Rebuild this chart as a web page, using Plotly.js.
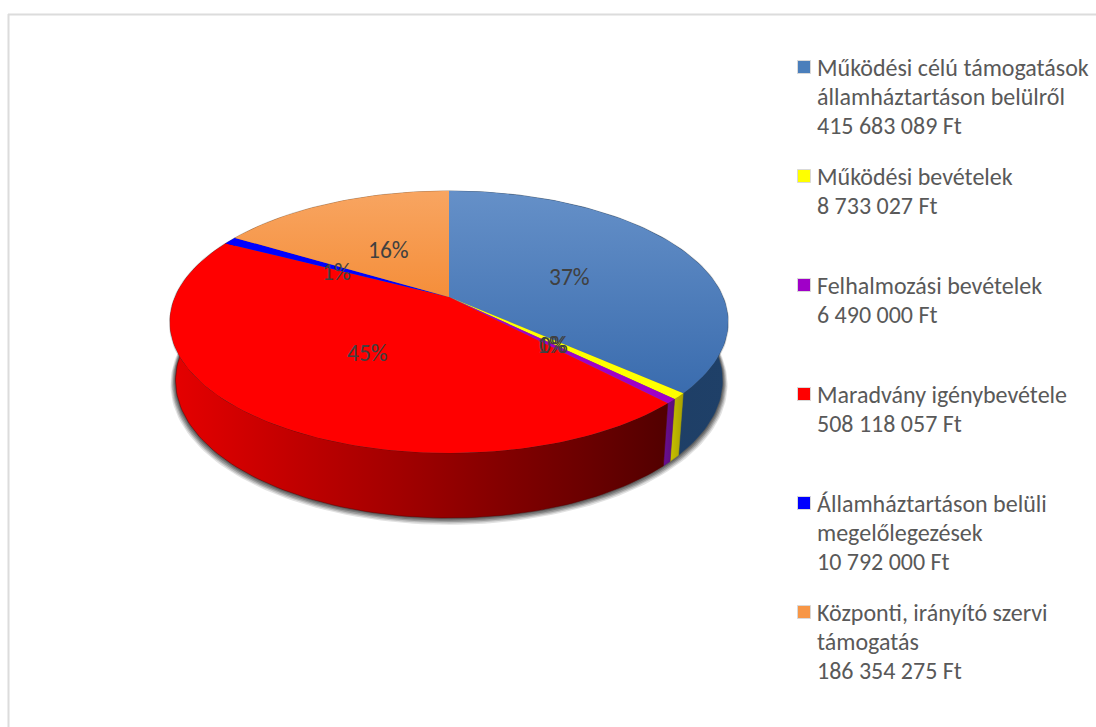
<!DOCTYPE html>
<html>
<head>
<meta charset="utf-8">
<script src="https://cdn.plot.ly/plotly-3.0.1.min.js"></script>
<style>html,body{margin:0;padding:0;background:#fff}#chart{width:1096px;height:727px}</style>
</head>
<body>
<div id="chart"></div>
<script>
// ---- data ----
const categories = ["Működési célú támogatások államháztartáson belülről","Működési bevételek","Felhalmozási bevételek","Maradvány igénybevétele","Államháztartáson belüli megelőlegezések","Központi, irányító szervi támogatás"];
const values = [415683089, 8733027, 6490000, 508118057, 10792000, 186354275];
const percentLabels = ["37%","1%","0%","45%","1%","16%"];
const legendLines = [
  ["Működési célú támogatások","államháztartáson belülről","415 683 089 Ft"],
  ["Működési bevételek","8 733 027 Ft"],
  ["Felhalmozási bevételek","6 490 000 Ft"],
  ["Maradvány igénybevétele","508 118 057 Ft"],
  ["Államháztartáson belüli","megelőlegezések","10 792 000 Ft"],
  ["Központi, irányító szervi","támogatás","186 354 275 Ft"]
];
// ---- styles ----
const faceColors = [["#6590c8","#3a6cae"],["#ffff00","#ffff00"],["#a000c8","#a000c8"],["#ff0000","#ff0000"],["#0000ff","#0000ff"],["#f8a561","#f58e3a"]];
const wallColors = [["#1b3a60","#1f4068"],["#c8c000","#a8a200"],["#6a0f90","#5a0c7c"],["#e60000","#520000"],["#000099","#000099"],["#a05a20","#a05a20"]];
const swatchColors = ["#4a7ebb","#ffff00","#a000c8","#ff0000","#0000ff","#f79646"];
const labelX = [569,551,553,367,336,388];
const labelY = [277,345,345,353,272,250];
const fontFamily = "Carlito, Lato, 'Open Sans', sans-serif";

// perspective disc geometry, in pixels of the page
const cx = 449, cy = 297, A = 273.9, B = 126.2, K = 0.1908;
function rim(deg, r){
  const t = deg*Math.PI/180, u = Math.sin(t)*(r||1), v = -Math.cos(t)*(r||1), d = 1 - K*v;
  return [cx + A*u/d, cy + B*v/d];
}
function low(p){ return [cx + (p[0]-cx)*0.98, p[1] + 58.5 + (p[1]-322)*0.05]; }
function arc(a,b){ const n = Math.max(2,Math.ceil((b-a)/1.5)), out=[]; for(let i=0;i<=n;i++) out.push(rim(a+(b-a)*i/n)); return out; }

const total = values.reduce((s,x)=>s+x,0);
let acc = 0;
const sectors = values.map(x=>{ const a = acc/total*360; acc += x; return [a, acc/total*360]; });
const traces = [];
const poly = (pts, extra)=>Object.assign({type:"scatter",mode:"lines",x:pts.map(p=>p[0]),y:pts.map(p=>p[1]),fill:"toself",line:{width:0},hoverinfo:"skip",showlegend:false},extra);

// soft drop shadow below the disc
const whole = arc(0,360);
[[5,0.15],[4,0.2],[3,0.28],[2,0.35],[1,0.4]].forEach(s=>{
  const pts = whole.map(p=>{ const q = low(p); return [cx+(q[0]-cx)*(1+s[0]/270), q[1]+s[0]*0.6+ (q[1]-322)*s[0]/260]; });
  traces.push(poly(pts,{fillcolor:"rgba(60,60,60,"+s[1]+")"}));
});
// thin rim edge behind the top face
traces.push(poly(whole.map(p=>[cx+(p[0]-cx)*1.003,p[1]-0.6+(p[1]>322?2:0)]),{fillcolor:"rgba(130,130,130,0.35)"}));

// walls
sectors.forEach((s,i)=>{
  const top = arc(s[0],s[1]), bot = top.map(low).reverse();
  const pts = top.concat(bot); pts.push(pts[0]);
  const xs = pts.map(p=>p[0]);
  traces.push(poly(pts,{fillcolor:wallColors[i][0],line:{width:0.5,color:wallColors[i][1]},
    fillgradient:{type:"horizontal",start:Math.min(...xs),stop:Math.max(...xs),colorscale:[[0,wallColors[i][0]],[1,wallColors[i][1]]]}}));
});
// top faces
sectors.forEach((s,i)=>{
  const pts = [[cx,cy]].concat(arc(s[0],s[1])); pts.push([cx,cy]);
  const ys = pts.map(p=>p[1]);
  traces.push(poly(pts,{name:categories[i],fillcolor:faceColors[i][0],
    fillgradient:{type:"vertical",start:Math.min(...ys),stop:Math.max(...ys),colorscale:[[0,faceColors[i][0]],[1,faceColors[i][1]]]}}));
});
// legend swatches
const legendTop = 67, legendStep = 109, lineStep = 29.4, legendTextX = 817, swatchX = 804;
traces.push({type:"scatter",mode:"markers",x:categories.map(()=>swatchX),y:categories.map((c,i)=>legendTop+legendStep*i),
  marker:{symbol:"square",size:13,color:swatchColors,line:{width:1,color:"#d9d9d9"}},hoverinfo:"skip",showlegend:false});

const annotations = [];
percentLabels.forEach((t,i)=>annotations.push({xref:"x",yref:"y",x:labelX[i],y:labelY[i],text:t,showarrow:false,xanchor:"center",yanchor:"middle",font:{family:fontFamily,size:23.5,color:"#404040"}}));
legendLines.forEach((lines,i)=>lines.forEach((t,j)=>annotations.push({xref:"x",yref:"y",x:legendTextX,y:legendTop+legendStep*i+lineStep*j,text:t,showarrow:false,xanchor:"left",yanchor:"middle",xshift:-2,font:{family:fontFamily,size:24,color:"#595959"}})));

const layout = {
  width:1096,height:727,margin:{l:0,r:0,t:0,b:0},paper_bgcolor:"#ffffff",plot_bgcolor:"#ffffff",showlegend:false,
  xaxis:{range:[0,1096],visible:false,fixedrange:true},
  yaxis:{range:[727,0],visible:false,fixedrange:true},
  shapes:[
    {type:"line",xref:"x",yref:"y",x0:8.5,x1:8.5,y0:14,y1:727,line:{color:"#dcdcdc",width:2}},
    {type:"line",xref:"x",yref:"y",x0:8,x1:1096,y0:14.5,y1:14.5,line:{color:"#dcdcdc",width:2}}
  ],
  annotations:annotations
};
Plotly.newPlot("chart",traces,layout,{displayModeBar:false,staticPlot:true});
</script>
</body>
</html>
